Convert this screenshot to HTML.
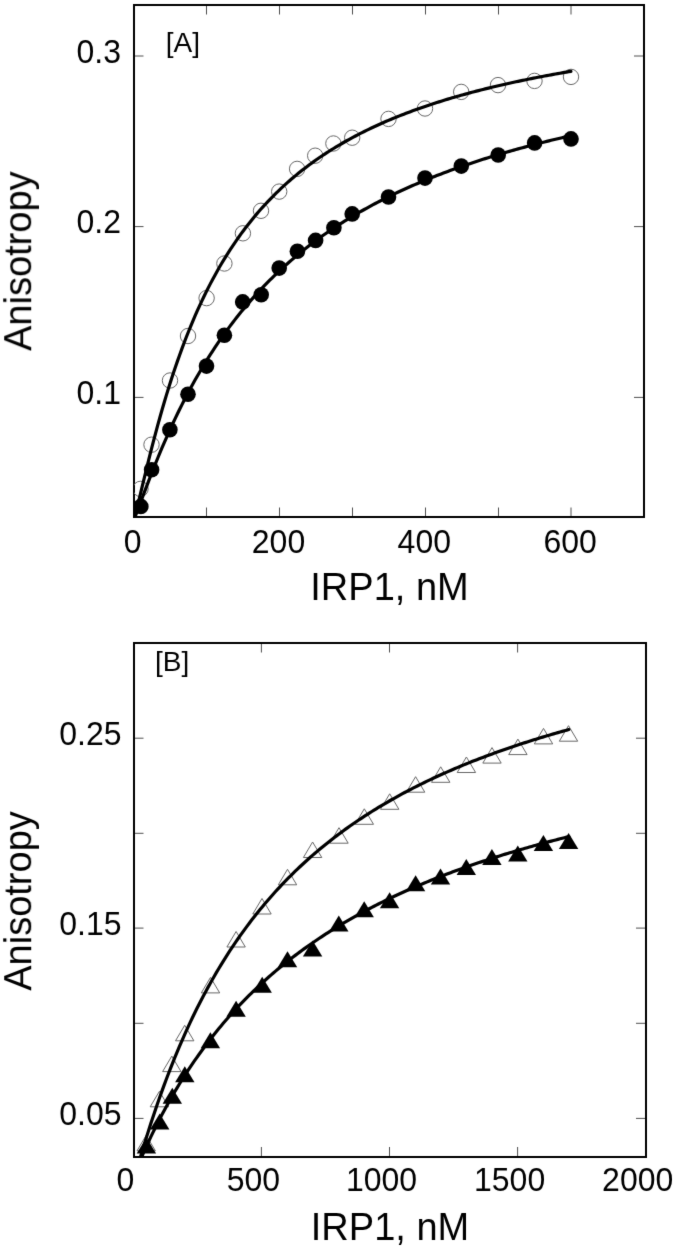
<!DOCTYPE html>
<html><head><meta charset="utf-8"><style>
html,body{margin:0;padding:0;background:#fff;}
body{width:675px;height:1250px;overflow:hidden;}
svg{display:block;filter:grayscale(1);}
text{font-family:"Liberation Sans",sans-serif;fill:#000;}
.tl{font-size:32px;}
.al{font-size:38px;}
.pl{font-size:28px;}
.tk{stroke:#505050;stroke-width:1;}
.cv{fill:none;stroke:#000;stroke-width:3.2;stroke-linejoin:round;stroke-linecap:round;}
</style></head><body>
<svg width="675" height="1250" viewBox="0 0 675 1250">
<filter id="sb" color-interpolation-filters="sRGB" filterUnits="userSpaceOnUse" x="0" y="0" width="675" height="1250"><feConvolveMatrix order="3" kernelMatrix="0.008 0.074 0.008 0.074 0.672 0.074 0.008 0.074 0.008" edgeMode="duplicate"/></filter>
<g filter="url(#sb)">
<rect x="0" y="0" width="675" height="1250" fill="#fff"/>
<defs><clipPath id="ca"><rect x="134" y="5" width="510" height="512"/></clipPath><clipPath id="cb"><rect x="134" y="643" width="512" height="514"/></clipPath></defs>
<rect x="134" y="5" width="510" height="512" fill="none" stroke="#000" stroke-width="2"/>
<line x1="206.5" y1="507.5" x2="206.5" y2="516" class="tk"/>
<line x1="206.5" y1="6" x2="206.5" y2="14.5" class="tk"/>
<line x1="279.5" y1="507.5" x2="279.5" y2="516" class="tk"/>
<line x1="279.5" y1="6" x2="279.5" y2="14.5" class="tk"/>
<line x1="352.5" y1="507.5" x2="352.5" y2="516" class="tk"/>
<line x1="352.5" y1="6" x2="352.5" y2="14.5" class="tk"/>
<line x1="425.5" y1="507.5" x2="425.5" y2="516" class="tk"/>
<line x1="425.5" y1="6" x2="425.5" y2="14.5" class="tk"/>
<line x1="498.5" y1="507.5" x2="498.5" y2="516" class="tk"/>
<line x1="498.5" y1="6" x2="498.5" y2="14.5" class="tk"/>
<line x1="571.0" y1="507.5" x2="571.0" y2="516" class="tk"/>
<line x1="571.0" y1="6" x2="571.0" y2="14.5" class="tk"/>
<line x1="135" y1="56.0" x2="143.5" y2="56.0" class="tk"/>
<line x1="634" y1="56.0" x2="643" y2="56.0" class="tk"/>
<line x1="135" y1="226.6" x2="143.5" y2="226.6" class="tk"/>
<line x1="634" y1="226.6" x2="643" y2="226.6" class="tk"/>
<line x1="135" y1="397.4" x2="143.5" y2="397.4" class="tk"/>
<line x1="634" y1="397.4" x2="643" y2="397.4" class="tk"/>
<g clip-path="url(#ca)">
<circle cx="140.5" cy="488.9" r="7.7" fill="none" stroke="#686868" stroke-width="1"/>
<circle cx="151.5" cy="444.7" r="7.7" fill="none" stroke="#686868" stroke-width="1"/>
<circle cx="170" cy="380.5" r="7.7" fill="none" stroke="#686868" stroke-width="1"/>
<circle cx="188" cy="336" r="7.7" fill="none" stroke="#686868" stroke-width="1"/>
<circle cx="206.6" cy="298.1" r="7.7" fill="none" stroke="#686868" stroke-width="1"/>
<circle cx="224.4" cy="263.5" r="7.7" fill="none" stroke="#686868" stroke-width="1"/>
<circle cx="242.9" cy="233.3" r="7.7" fill="none" stroke="#686868" stroke-width="1"/>
<circle cx="261" cy="210.8" r="7.7" fill="none" stroke="#686868" stroke-width="1"/>
<circle cx="279.2" cy="191.6" r="7.7" fill="none" stroke="#686868" stroke-width="1"/>
<circle cx="297.1" cy="168.9" r="7.7" fill="none" stroke="#686868" stroke-width="1"/>
<circle cx="315.2" cy="155.7" r="7.7" fill="none" stroke="#686868" stroke-width="1"/>
<circle cx="333.4" cy="143.5" r="7.7" fill="none" stroke="#686868" stroke-width="1"/>
<circle cx="352.2" cy="137.7" r="7.7" fill="none" stroke="#686868" stroke-width="1"/>
<circle cx="388.5" cy="118.9" r="7.7" fill="none" stroke="#686868" stroke-width="1"/>
<circle cx="425" cy="108.5" r="7.7" fill="none" stroke="#686868" stroke-width="1"/>
<circle cx="461.2" cy="91.9" r="7.7" fill="none" stroke="#686868" stroke-width="1"/>
<circle cx="498" cy="85.1" r="7.7" fill="none" stroke="#686868" stroke-width="1"/>
<circle cx="534.5" cy="80.9" r="7.7" fill="none" stroke="#686868" stroke-width="1"/>
<circle cx="571" cy="76.9" r="7.7" fill="none" stroke="#686868" stroke-width="1"/>
<path d="M133.50,520.84 L135.70,513.23 L137.90,504.44 L140.09,495.35 L142.29,486.19 L144.49,477.06 L146.69,468.03 L148.89,459.15 L151.08,450.43 L153.28,441.89 L155.48,433.55 L157.68,425.41 L159.88,417.48 L162.07,409.75 L164.27,402.22 L166.47,394.89 L168.67,387.76 L170.87,380.82 L173.06,374.07 L175.26,367.51 L177.46,361.13 L179.66,354.92 L181.86,348.88 L184.05,343.01 L186.25,337.29 L188.45,331.73 L190.65,326.32 L192.85,321.06 L195.04,315.93 L197.24,310.94 L199.44,306.08 L201.64,301.35 L203.84,296.74 L206.03,292.25 L208.23,287.87 L210.43,283.61 L212.63,279.45 L214.83,275.39 L217.02,271.44 L219.22,267.58 L221.42,263.81 L223.62,260.14 L225.82,256.55 L228.01,253.05 L230.21,249.63 L232.41,246.29 L234.61,243.02 L236.81,239.83 L239.00,236.72 L241.20,233.67 L243.40,230.69 L245.60,227.78 L247.80,224.93 L249.99,222.14 L252.19,219.41 L254.39,216.74 L256.59,214.13 L258.79,211.57 L260.98,209.07 L263.18,206.62 L265.38,204.21 L267.58,201.86 L269.78,199.55 L271.97,197.29 L274.17,195.08 L276.37,192.91 L278.57,190.78 L280.77,188.69 L282.96,186.64 L285.16,184.63 L287.36,182.66 L289.56,180.72 L291.76,178.82 L293.95,176.96 L296.15,175.13 L298.35,173.33 L300.55,171.57 L302.75,169.84 L304.94,168.14 L307.14,166.46 L309.34,164.82 L311.54,163.21 L313.74,161.62 L315.93,160.06 L318.13,158.53 L320.33,157.02 L322.53,155.54 L324.73,154.08 L326.92,152.65 L329.12,151.24 L331.32,149.85 L333.52,148.49 L335.72,147.15 L337.91,145.83 L340.11,144.53 L342.31,143.25 L344.51,141.99 L346.71,140.75 L348.90,139.53 L351.10,138.32 L353.30,137.14 L355.50,135.97 L357.70,134.82 L359.89,133.69 L362.09,132.58 L364.29,131.48 L366.49,130.39 L368.68,129.33 L370.88,128.28 L373.08,127.24 L375.28,126.22 L377.48,125.21 L379.67,124.22 L381.87,123.24 L384.07,122.27 L386.27,121.32 L388.47,120.38 L390.66,119.45 L392.86,118.54 L395.06,117.64 L397.26,116.75 L399.46,115.87 L401.65,115.00 L403.85,114.15 L406.05,113.30 L408.25,112.47 L410.45,111.65 L412.64,110.84 L414.84,110.04 L417.04,109.25 L419.24,108.47 L421.44,107.69 L423.63,106.93 L425.83,106.18 L428.03,105.44 L430.23,104.71 L432.43,103.98 L434.62,103.26 L436.82,102.56 L439.02,101.86 L441.22,101.17 L443.42,100.49 L445.61,99.81 L447.81,99.15 L450.01,98.49 L452.21,97.84 L454.41,97.19 L456.60,96.56 L458.80,95.93 L461.00,95.31 L463.20,94.69 L465.40,94.09 L467.59,93.49 L469.79,92.89 L471.99,92.31 L474.19,91.72 L476.39,91.15 L478.58,90.58 L480.78,90.02 L482.98,89.46 L485.18,88.92 L487.38,88.37 L489.57,87.83 L491.77,87.30 L493.97,86.77 L496.17,86.25 L498.37,85.74 L500.56,85.23 L502.76,84.72 L504.96,84.22 L507.16,83.73 L509.36,83.24 L511.55,82.75 L513.75,82.27 L515.95,81.80 L518.15,81.33 L520.35,80.86 L522.54,80.40 L524.74,79.95 L526.94,79.49 L529.14,79.05 L531.34,78.60 L533.53,78.17 L535.73,77.73 L537.93,77.30 L540.13,76.88 L542.33,76.45 L544.52,76.04 L546.72,75.62 L548.92,75.21 L551.12,74.81 L553.32,74.40 L555.51,74.01 L557.71,73.61 L559.91,73.22 L562.11,72.83 L564.31,72.45 L566.50,72.07 L568.70,71.69 L570.90,71.32" class="cv"/>
<path d="M133.50,520.63 L135.70,515.30 L137.90,509.52 L140.09,503.65 L142.29,497.76 L144.49,491.91 L146.69,486.10 L148.89,480.36 L151.08,474.71 L153.28,469.13 L155.48,463.64 L157.68,458.24 L159.88,452.93 L162.07,447.72 L164.27,442.60 L166.47,437.57 L168.67,432.63 L170.87,427.79 L173.06,423.03 L175.26,418.36 L177.46,413.78 L179.66,409.29 L181.86,404.88 L184.05,400.55 L186.25,396.30 L188.45,392.13 L190.65,388.04 L192.85,384.03 L195.04,380.09 L197.24,376.22 L199.44,372.43 L201.64,368.70 L203.84,365.04 L206.03,361.45 L208.23,357.92 L210.43,354.46 L212.63,351.05 L214.83,347.71 L217.02,344.43 L219.22,341.20 L221.42,338.03 L223.62,334.92 L225.82,331.86 L228.01,328.85 L230.21,325.89 L232.41,322.98 L234.61,320.13 L236.81,317.32 L239.00,314.55 L241.20,311.84 L243.40,309.16 L245.60,306.53 L247.80,303.95 L249.99,301.40 L252.19,298.90 L254.39,296.43 L256.59,294.01 L258.79,291.62 L260.98,289.27 L263.18,286.95 L265.38,284.68 L267.58,282.43 L269.78,280.22 L271.97,278.05 L274.17,275.91 L276.37,273.80 L278.57,271.72 L280.77,269.67 L282.96,267.65 L285.16,265.66 L287.36,263.70 L289.56,261.77 L291.76,259.86 L293.95,257.99 L296.15,256.14 L298.35,254.31 L300.55,252.51 L302.75,250.74 L304.94,248.99 L307.14,247.26 L309.34,245.56 L311.54,243.88 L313.74,242.22 L315.93,240.59 L318.13,238.98 L320.33,237.39 L322.53,235.82 L324.73,234.27 L326.92,232.74 L329.12,231.23 L331.32,229.74 L333.52,228.27 L335.72,226.82 L337.91,225.38 L340.11,223.97 L342.31,222.57 L344.51,221.19 L346.71,219.83 L348.90,218.48 L351.10,217.15 L353.30,215.84 L355.50,214.54 L357.70,213.26 L359.89,211.99 L362.09,210.74 L364.29,209.50 L366.49,208.28 L368.68,207.07 L370.88,205.88 L373.08,204.70 L375.28,203.53 L377.48,202.38 L379.67,201.24 L381.87,200.11 L384.07,199.00 L386.27,197.89 L388.47,196.81 L390.66,195.73 L392.86,194.66 L395.06,193.61 L397.26,192.57 L399.46,191.54 L401.65,190.52 L403.85,189.51 L406.05,188.51 L408.25,187.53 L410.45,186.55 L412.64,185.59 L414.84,184.63 L417.04,183.68 L419.24,182.75 L421.44,181.82 L423.63,180.91 L425.83,180.00 L428.03,179.10 L430.23,178.21 L432.43,177.33 L434.62,176.46 L436.82,175.60 L439.02,174.75 L441.22,173.91 L443.42,173.07 L445.61,172.24 L447.81,171.42 L450.01,170.61 L452.21,169.81 L454.41,169.01 L456.60,168.22 L458.80,167.44 L461.00,166.67 L463.20,165.90 L465.40,165.14 L467.59,164.39 L469.79,163.65 L471.99,162.91 L474.19,162.18 L476.39,161.46 L478.58,160.74 L480.78,160.03 L482.98,159.33 L485.18,158.63 L487.38,157.94 L489.57,157.25 L491.77,156.58 L493.97,155.90 L496.17,155.24 L498.37,154.58 L500.56,153.92 L502.76,153.27 L504.96,152.63 L507.16,151.99 L509.36,151.36 L511.55,150.73 L513.75,150.11 L515.95,149.50 L518.15,148.89 L520.35,148.28 L522.54,147.68 L524.74,147.09 L526.94,146.50 L529.14,145.91 L531.34,145.33 L533.53,144.76 L535.73,144.19 L537.93,143.62 L540.13,143.06 L542.33,142.50 L544.52,141.95 L546.72,141.41 L548.92,140.86 L551.12,140.32 L553.32,139.79 L555.51,139.26 L557.71,138.73 L559.91,138.21 L562.11,137.70 L564.31,137.18 L566.50,136.67 L568.70,136.17 L570.90,135.67" class="cv"/>
<circle cx="140.8" cy="506.4" r="7.8" fill="#000"/>
<circle cx="151.6" cy="469.7" r="7.8" fill="#000"/>
<circle cx="169.9" cy="429.8" r="7.8" fill="#000"/>
<circle cx="188" cy="394.2" r="7.8" fill="#000"/>
<circle cx="206.5" cy="366.1" r="7.8" fill="#000"/>
<circle cx="224.4" cy="335.2" r="7.8" fill="#000"/>
<circle cx="242.7" cy="301.9" r="7.8" fill="#000"/>
<circle cx="261.2" cy="294.8" r="7.8" fill="#000"/>
<circle cx="279.2" cy="268.1" r="7.8" fill="#000"/>
<circle cx="297.4" cy="251.3" r="7.8" fill="#000"/>
<circle cx="315.6" cy="240.4" r="7.8" fill="#000"/>
<circle cx="333.9" cy="227.7" r="7.8" fill="#000"/>
<circle cx="352.2" cy="213.9" r="7.8" fill="#000"/>
<circle cx="388.5" cy="197" r="7.8" fill="#000"/>
<circle cx="425" cy="178.1" r="7.8" fill="#000"/>
<circle cx="461.3" cy="166.1" r="7.8" fill="#000"/>
<circle cx="498.2" cy="155" r="7.8" fill="#000"/>
<circle cx="534.6" cy="142.9" r="7.8" fill="#000"/>
<circle cx="571" cy="138.9" r="7.8" fill="#000"/>
</g>
<rect x="134" y="643" width="512" height="514" fill="none" stroke="#000" stroke-width="2"/>
<line x1="261.4" y1="1147" x2="261.4" y2="1156" class="tk"/>
<line x1="261.4" y1="644" x2="261.4" y2="652.5" class="tk"/>
<line x1="389.5" y1="1147" x2="389.5" y2="1156" class="tk"/>
<line x1="389.5" y1="644" x2="389.5" y2="652.5" class="tk"/>
<line x1="517.6" y1="1147" x2="517.6" y2="1156" class="tk"/>
<line x1="517.6" y1="644" x2="517.6" y2="652.5" class="tk"/>
<line x1="135" y1="738.2" x2="143.5" y2="738.2" class="tk"/>
<line x1="636" y1="738.2" x2="645" y2="738.2" class="tk"/>
<line x1="135" y1="833.3" x2="143.5" y2="833.3" class="tk"/>
<line x1="636" y1="833.3" x2="645" y2="833.3" class="tk"/>
<line x1="135" y1="928.1" x2="143.5" y2="928.1" class="tk"/>
<line x1="636" y1="928.1" x2="645" y2="928.1" class="tk"/>
<line x1="135" y1="1023.3" x2="143.5" y2="1023.3" class="tk"/>
<line x1="636" y1="1023.3" x2="645" y2="1023.3" class="tk"/>
<line x1="135" y1="1118.4" x2="143.5" y2="1118.4" class="tk"/>
<line x1="636" y1="1118.4" x2="645" y2="1118.4" class="tk"/>
<g clip-path="url(#cb)">
<path d="M146.20,1135.30 L155.40,1150.80 L137.00,1150.80 Z" fill="none" stroke="#686868" stroke-width="1"/>
<path d="M159.40,1091.30 L168.60,1106.80 L150.20,1106.80 Z" fill="none" stroke="#686868" stroke-width="1"/>
<path d="M171.80,1056.10 L181.00,1071.60 L162.60,1071.60 Z" fill="none" stroke="#686868" stroke-width="1"/>
<path d="M184.70,1025.30 L193.90,1040.80 L175.50,1040.80 Z" fill="none" stroke="#686868" stroke-width="1"/>
<path d="M210.50,977.40 L219.70,992.90 L201.30,992.90 Z" fill="none" stroke="#686868" stroke-width="1"/>
<path d="M236.10,931.50 L245.30,947.00 L226.90,947.00 Z" fill="none" stroke="#686868" stroke-width="1"/>
<path d="M262.00,898.50 L271.20,914.00 L252.80,914.00 Z" fill="none" stroke="#686868" stroke-width="1"/>
<path d="M287.50,869.30 L296.70,884.80 L278.30,884.80 Z" fill="none" stroke="#686868" stroke-width="1"/>
<path d="M312.60,842.00 L321.80,857.50 L303.40,857.50 Z" fill="none" stroke="#686868" stroke-width="1"/>
<path d="M339.00,827.70 L348.20,843.20 L329.80,843.20 Z" fill="none" stroke="#686868" stroke-width="1"/>
<path d="M364.30,808.80 L373.50,824.30 L355.10,824.30 Z" fill="none" stroke="#686868" stroke-width="1"/>
<path d="M389.70,793.80 L398.90,809.30 L380.50,809.30 Z" fill="none" stroke="#686868" stroke-width="1"/>
<path d="M415.60,776.70 L424.80,792.20 L406.40,792.20 Z" fill="none" stroke="#686868" stroke-width="1"/>
<path d="M440.70,766.80 L449.90,782.30 L431.50,782.30 Z" fill="none" stroke="#686868" stroke-width="1"/>
<path d="M466.40,757.00 L475.60,772.50 L457.20,772.50 Z" fill="none" stroke="#686868" stroke-width="1"/>
<path d="M492.00,747.60 L501.20,763.10 L482.80,763.10 Z" fill="none" stroke="#686868" stroke-width="1"/>
<path d="M517.90,739.10 L527.10,754.60 L508.70,754.60 Z" fill="none" stroke="#686868" stroke-width="1"/>
<path d="M543.50,728.40 L552.70,743.90 L534.30,743.90 Z" fill="none" stroke="#686868" stroke-width="1"/>
<path d="M568.50,725.70 L577.70,741.20 L559.30,741.20 Z" fill="none" stroke="#686868" stroke-width="1"/>
<path d="M133.30,1181.42 L135.49,1174.02 L137.68,1166.49 L139.87,1159.03 L142.05,1151.68 L144.24,1144.46 L146.43,1137.37 L148.62,1130.42 L150.81,1123.61 L153.00,1116.94 L155.19,1110.41 L157.38,1104.01 L159.56,1097.74 L161.75,1091.61 L163.94,1085.60 L166.13,1079.72 L168.32,1073.96 L170.51,1068.32 L172.70,1062.79 L174.88,1057.38 L177.07,1052.08 L179.26,1046.88 L181.45,1041.79 L183.64,1036.80 L185.83,1031.91 L188.02,1027.11 L190.20,1022.41 L192.39,1017.80 L194.58,1013.27 L196.77,1008.83 L198.96,1004.48 L201.15,1000.21 L203.34,996.02 L205.53,991.90 L207.71,987.87 L209.90,983.90 L212.09,980.01 L214.28,976.18 L216.47,972.43 L218.66,968.74 L220.85,965.11 L223.03,961.55 L225.22,958.05 L227.41,954.61 L229.60,951.23 L231.79,947.90 L233.98,944.63 L236.17,941.42 L238.35,938.26 L240.54,935.15 L242.73,932.09 L244.92,929.08 L247.11,926.12 L249.30,923.20 L251.49,920.33 L253.68,917.51 L255.86,914.73 L258.05,912.00 L260.24,909.30 L262.43,906.65 L264.62,904.03 L266.81,901.46 L269.00,898.92 L271.18,896.43 L273.37,893.96 L275.56,891.54 L277.75,889.15 L279.94,886.79 L282.13,884.47 L284.32,882.18 L286.51,879.93 L288.69,877.70 L290.88,875.51 L293.07,873.35 L295.26,871.21 L297.45,869.11 L299.64,867.03 L301.83,864.98 L304.01,862.96 L306.20,860.97 L308.39,859.01 L310.58,857.06 L312.77,855.15 L314.96,853.26 L317.15,851.39 L319.33,849.55 L321.52,847.73 L323.71,845.94 L325.90,844.16 L328.09,842.41 L330.28,840.69 L332.47,838.98 L334.66,837.29 L336.84,835.63 L339.03,833.98 L341.22,832.36 L343.41,830.75 L345.60,829.16 L347.79,827.60 L349.98,826.05 L352.16,824.52 L354.35,823.00 L356.54,821.51 L358.73,820.03 L360.92,818.57 L363.11,817.13 L365.30,815.70 L367.48,814.29 L369.67,812.89 L371.86,811.51 L374.05,810.15 L376.24,808.80 L378.43,807.46 L380.62,806.14 L382.81,804.84 L384.99,803.55 L387.18,802.27 L389.37,801.01 L391.56,799.76 L393.75,798.52 L395.94,797.30 L398.13,796.09 L400.31,794.89 L402.50,793.70 L404.69,792.53 L406.88,791.37 L409.07,790.22 L411.26,789.08 L413.45,787.95 L415.63,786.84 L417.82,785.74 L420.01,784.64 L422.20,783.56 L424.39,782.49 L426.58,781.43 L428.77,780.38 L430.96,779.34 L433.14,778.31 L435.33,777.29 L437.52,776.29 L439.71,775.29 L441.90,774.30 L444.09,773.31 L446.28,772.34 L448.46,771.38 L450.65,770.43 L452.84,769.48 L455.03,768.55 L457.22,767.62 L459.41,766.70 L461.60,765.79 L463.79,764.89 L465.97,764.00 L468.16,763.11 L470.35,762.23 L472.54,761.36 L474.73,760.50 L476.92,759.65 L479.11,758.80 L481.29,757.96 L483.48,757.13 L485.67,756.31 L487.86,755.49 L490.05,754.68 L492.24,753.88 L494.43,753.08 L496.61,752.29 L498.80,751.51 L500.99,750.73 L503.18,749.96 L505.37,749.20 L507.56,748.44 L509.75,747.69 L511.94,746.95 L514.12,746.21 L516.31,745.48 L518.50,744.75 L520.69,744.04 L522.88,743.32 L525.07,742.61 L527.26,741.91 L529.44,741.21 L531.63,740.52 L533.82,739.84 L536.01,739.16 L538.20,738.48 L540.39,737.81 L542.58,737.15 L544.76,736.49 L546.95,735.84 L549.14,735.19 L551.33,734.55 L553.52,733.91 L555.71,733.27 L557.90,732.64 L560.09,732.02 L562.27,731.40 L564.46,730.79 L566.65,730.18 L568.84,729.57" class="cv"/>
<path d="M133.30,1177.28 L135.49,1171.75 L137.68,1166.42 L139.87,1161.21 L142.05,1156.14 L144.24,1151.18 L146.43,1146.33 L148.62,1141.58 L150.81,1136.94 L153.00,1132.39 L155.19,1127.94 L157.38,1123.57 L159.56,1119.29 L161.75,1115.10 L163.94,1110.99 L166.13,1106.95 L168.32,1103.00 L170.51,1099.11 L172.70,1095.30 L174.88,1091.56 L177.07,1087.89 L179.26,1084.28 L181.45,1080.74 L183.64,1077.25 L185.83,1073.83 L188.02,1070.47 L190.20,1067.17 L192.39,1063.92 L194.58,1060.72 L196.77,1057.58 L198.96,1054.49 L201.15,1051.46 L203.34,1048.47 L205.53,1045.52 L207.71,1042.63 L209.90,1039.78 L212.09,1036.98 L214.28,1034.21 L216.47,1031.50 L218.66,1028.82 L220.85,1026.18 L223.03,1023.59 L225.22,1021.03 L227.41,1018.51 L229.60,1016.02 L231.79,1013.58 L233.98,1011.16 L236.17,1008.79 L238.35,1006.44 L240.54,1004.13 L242.73,1001.86 L244.92,999.61 L247.11,997.39 L249.30,995.21 L251.49,993.05 L253.68,990.93 L255.86,988.83 L258.05,986.76 L260.24,984.72 L262.43,982.71 L264.62,980.72 L266.81,978.76 L269.00,976.82 L271.18,974.91 L273.37,973.02 L275.56,971.15 L277.75,969.31 L279.94,967.50 L282.13,965.70 L284.32,963.93 L286.51,962.18 L288.69,960.45 L290.88,958.74 L293.07,957.05 L295.26,955.38 L297.45,953.73 L299.64,952.11 L301.83,950.50 L304.01,948.90 L306.20,947.33 L308.39,945.78 L310.58,944.24 L312.77,942.72 L314.96,941.22 L317.15,939.74 L319.33,938.27 L321.52,936.82 L323.71,935.38 L325.90,933.96 L328.09,932.56 L330.28,931.17 L332.47,929.79 L334.66,928.43 L336.84,927.09 L339.03,925.76 L341.22,924.44 L343.41,923.14 L345.60,921.85 L347.79,920.58 L349.98,919.32 L352.16,918.07 L354.35,916.83 L356.54,915.61 L358.73,914.40 L360.92,913.20 L363.11,912.01 L365.30,910.84 L367.48,909.67 L369.67,908.52 L371.86,907.38 L374.05,906.25 L376.24,905.13 L378.43,904.03 L380.62,902.93 L382.81,901.84 L384.99,900.77 L387.18,899.70 L389.37,898.65 L391.56,897.60 L393.75,896.57 L395.94,895.54 L398.13,894.53 L400.31,893.52 L402.50,892.52 L404.69,891.53 L406.88,890.55 L409.07,889.58 L411.26,888.62 L413.45,887.67 L415.63,886.72 L417.82,885.79 L420.01,884.86 L422.20,883.94 L424.39,883.03 L426.58,882.12 L428.77,881.23 L430.96,880.34 L433.14,879.46 L435.33,878.59 L437.52,877.72 L439.71,876.87 L441.90,876.02 L444.09,875.17 L446.28,874.34 L448.46,873.51 L450.65,872.69 L452.84,871.87 L455.03,871.06 L457.22,870.26 L459.41,869.46 L461.60,868.68 L463.79,867.89 L465.97,867.12 L468.16,866.35 L470.35,865.58 L472.54,864.83 L474.73,864.07 L476.92,863.33 L479.11,862.59 L481.29,861.86 L483.48,861.13 L485.67,860.41 L487.86,859.69 L490.05,858.98 L492.24,858.27 L494.43,857.57 L496.61,856.88 L498.80,856.19 L500.99,855.50 L503.18,854.83 L505.37,854.15 L507.56,853.48 L509.75,852.82 L511.94,852.16 L514.12,851.51 L516.31,850.86 L518.50,850.21 L520.69,849.57 L522.88,848.94 L525.07,848.31 L527.26,847.68 L529.44,847.06 L531.63,846.45 L533.82,845.83 L536.01,845.23 L538.20,844.62 L540.39,844.02 L542.58,843.43 L544.76,842.84 L546.95,842.25 L549.14,841.67 L551.33,841.09 L553.52,840.52 L555.71,839.95 L557.90,839.38 L560.09,838.82 L562.27,838.26 L564.46,837.70 L566.65,837.15 L568.84,836.61" class="cv"/>
<path d="M146.40,1137.50 L156.10,1153.50 L136.70,1153.50 Z" fill="#000"/>
<path d="M159.70,1113.50 L169.40,1129.50 L150.00,1129.50 Z" fill="#000"/>
<path d="M172.30,1087.80 L182.00,1103.80 L162.60,1103.80 Z" fill="#000"/>
<path d="M184.80,1066.30 L194.50,1082.30 L175.10,1082.30 Z" fill="#000"/>
<path d="M210.40,1032.30 L220.10,1048.30 L200.70,1048.30 Z" fill="#000"/>
<path d="M236.10,1000.80 L245.80,1016.80 L226.40,1016.80 Z" fill="#000"/>
<path d="M262.20,976.80 L271.90,992.80 L252.50,992.80 Z" fill="#000"/>
<path d="M287.50,951.20 L297.20,967.20 L277.80,967.20 Z" fill="#000"/>
<path d="M312.60,940.60 L322.30,956.60 L302.90,956.60 Z" fill="#000"/>
<path d="M338.80,915.60 L348.50,931.60 L329.10,931.60 Z" fill="#000"/>
<path d="M364.20,901.20 L373.90,917.20 L354.50,917.20 Z" fill="#000"/>
<path d="M389.60,892.20 L399.30,908.20 L379.90,908.20 Z" fill="#000"/>
<path d="M415.60,875.20 L425.30,891.20 L405.90,891.20 Z" fill="#000"/>
<path d="M440.50,868.60 L450.20,884.60 L430.80,884.60 Z" fill="#000"/>
<path d="M466.30,859.10 L476.00,875.10 L456.60,875.10 Z" fill="#000"/>
<path d="M491.90,848.90 L501.60,864.90 L482.20,864.90 Z" fill="#000"/>
<path d="M517.80,845.60 L527.50,861.60 L508.10,861.60 Z" fill="#000"/>
<path d="M543.40,834.90 L553.10,850.90 L533.70,850.90 Z" fill="#000"/>
<path d="M568.60,833.00 L578.30,849.00 L558.90,849.00 Z" fill="#000"/>
</g>
<text transform="translate(121,62.6) scale(1,1.06)" class="tl" text-anchor="end">0.3</text>
<text transform="translate(121,233.1) scale(1,1.06)" class="tl" text-anchor="end">0.2</text>
<text transform="translate(121,403.7) scale(1,1.06)" class="tl" text-anchor="end">0.1</text>
<text transform="translate(132.7,553.2) scale(1,1.06)" class="tl" text-anchor="middle">0</text>
<text transform="translate(278.5,553.2) scale(1,1.06)" class="tl" text-anchor="middle">200</text>
<text transform="translate(424.3,553.2) scale(1,1.06)" class="tl" text-anchor="middle">400</text>
<text transform="translate(570.1,553.2) scale(1,1.06)" class="tl" text-anchor="middle">600</text>
<text x="389.5" y="600.3" class="al" text-anchor="middle">IRP1, nM</text>
<text transform="translate(31.2,261.2) rotate(-90)" x="0" y="0" class="al" text-anchor="middle">Anisotropy</text>
<text x="165.8" y="51.8" class="pl">[A]</text>
<text transform="translate(121.5,744.8) scale(1,1.06)" class="tl" text-anchor="end">0.25</text>
<text transform="translate(121.5,934.7) scale(1,1.06)" class="tl" text-anchor="end">0.15</text>
<text transform="translate(121.5,1125.0) scale(1,1.06)" class="tl" text-anchor="end">0.05</text>
<text transform="translate(125.3,1191.2) scale(1,1.06)" class="tl" text-anchor="middle">0</text>
<text transform="translate(253.4,1191.2) scale(1,1.06)" class="tl" text-anchor="middle">500</text>
<text transform="translate(381.5,1191.2) scale(1,1.06)" class="tl" text-anchor="middle">1000</text>
<text transform="translate(509.6,1191.2) scale(1,1.06)" class="tl" text-anchor="middle">1500</text>
<text transform="translate(637.7,1191.2) scale(1,1.06)" class="tl" text-anchor="middle">2000</text>
<text x="390" y="1240.4" class="al" text-anchor="middle">IRP1, nM</text>
<text transform="translate(31.2,901) rotate(-90)" x="0" y="0" class="al" text-anchor="middle">Anisotropy</text>
<text x="155" y="671.2" class="pl">[B]</text>
</g>
</svg>
</body></html>
